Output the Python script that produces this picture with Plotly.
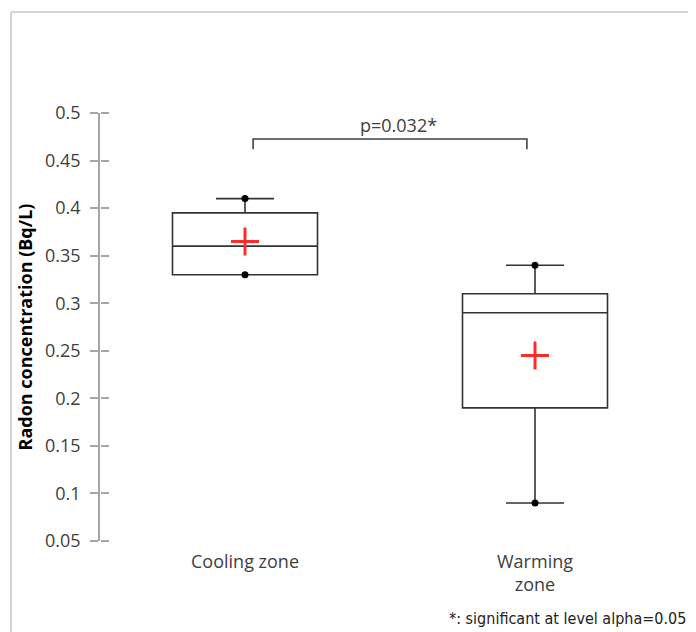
import plotly.graph_objects as go

# ---- data ----
categories = ["Cooling zone", "Warming<br>zone"]
cat_pos = [1, 2]
q1_vals = [0.33, 0.19]
median_vals = [0.36, 0.29]
q3_vals = [0.395, 0.31]
lower_vals = [0.33, 0.09]
upper_vals = [0.41, 0.34]
mean_vals = [0.365, 0.245]
y_ticks = [0.05, 0.1, 0.15, 0.2, 0.25, 0.3, 0.35, 0.4, 0.45, 0.5]
y_ticklabels = ["0.05", "0.1", "0.15", "0.2", "0.25", "0.3", "0.35", "0.4", "0.45", "0.5"]
p_label = "p=0.032*"
footnote = "*: significant at level alpha=0.05"
y_title = "Radon concentration (Bq/L)"

FONT = "Open Sans"
TXT = "#404040"
Y_RANGE = [0.05, 0.5]

fig = go.Figure()

fig.add_trace(go.Box(
    x=cat_pos, q1=q1_vals, median=median_vals, q3=q3_vals,
    lowerfence=lower_vals, upperfence=upper_vals,
    width=0.5, whiskerwidth=0.4,
    fillcolor="white", line=dict(color="#333333", width=1.6),
    hoverinfo="skip", showlegend=False,
))

# whisker end dots
dot_x = [cat_pos[0], cat_pos[0], cat_pos[1], cat_pos[1]]
dot_y = [upper_vals[0], lower_vals[0], upper_vals[1], lower_vals[1]]
fig.add_trace(go.Scatter(
    x=dot_x, y=dot_y, mode="markers",
    marker=dict(symbol="circle", size=7, color="black"),
    hoverinfo="skip", showlegend=False,
))

# means
fig.add_trace(go.Scatter(
    x=cat_pos, y=mean_vals, mode="markers",
    marker=dict(symbol="cross-thin", size=20, line=dict(color="#ff2b2b", width=3)),
    hoverinfo="skip", showlegend=False,
))

# invisible trace on overlay axis (right-pointing half of the crossing ticks)
fig.add_trace(go.Scatter(
    x=[cat_pos[0]], y=[y_ticks[0]], yaxis="y2", mode="markers",
    marker=dict(opacity=0), hoverinfo="skip", showlegend=False,
))

# significance bracket
bx0, bx1 = 1.028, 1.972
by_top, by_bot = 0.4726, 0.462
fig.add_shape(type="path",
              path=f"M {bx0},{by_bot} L {bx0},{by_top} L {bx1},{by_top} L {bx1},{by_bot}",
              xref="x", yref="y", line=dict(color="#404040", width=1.6))
fig.add_annotation(x=1.53, y=0.4877, xref="x", yref="y", text=p_label,
                   showarrow=False, font=dict(family=FONT, size=18, color=TXT),
                   xanchor="center", yanchor="middle")

# footnote
fig.add_annotation(x=1.013, y=-0.18, xref="paper", yref="paper", text=footnote,
                   showarrow=False,
                   font=dict(family="Liberation Sans Narrow, DejaVu Sans Condensed, Liberation Sans, sans-serif",
                             size=16, color="#222222"),
                   xanchor="right", yanchor="middle")

# outer gray frame (top & left)
fig.add_shape(type="line", xref="paper", yref="paper", x0=-0.1534, x1=1.1, y0=1.236, y1=1.236,
              line=dict(color="#d4d4d4", width=2))
fig.add_shape(type="line", xref="paper", yref="paper", x0=-0.1534, x1=-0.1534, y0=-0.3, y1=1.236,
              line=dict(color="#d4d4d4", width=2))

fig.update_layout(
    width=688, height=624,
    margin=dict(l=92, r=16, t=105, b=91),
    paper_bgcolor="white", plot_bgcolor="white",
    font=dict(family=FONT, color=TXT),
    showlegend=False,
    xaxis=dict(
        range=[0.5, 2.5], tickvals=cat_pos, ticktext=categories,
        showline=False, showgrid=False, zeroline=False, ticks="",
        tickfont=dict(family=FONT, size=18, color=TXT),
        ticklabelstandoff=8,
    ),
    yaxis=dict(
        range=Y_RANGE, tickvals=y_ticks, ticktext=y_ticklabels,
        showline=True, linecolor="#a6a6a6", linewidth=1.5,
        ticks="outside", ticklen=8, tickcolor="#a6a6a6", tickwidth=1.5,
        showgrid=False, zeroline=False,
        tickfont=dict(family=FONT, size=18, color=TXT),
        ticklabelstandoff=6,
        title=dict(text=f"<b>{y_title}</b>", font=dict(family=FONT, size=18, color="black"), standoff=8),
        automargin=False,
    ),
    yaxis2=dict(
        overlaying="y", anchor="free", position=0, side="right", range=Y_RANGE,
        ticks="outside", ticklen=8, tickcolor="#a6a6a6", tickwidth=1.5,
        tickvals=y_ticks, showticklabels=False, showline=False, showgrid=False, zeroline=False,
        automargin=False,
    ),
)

fig.write_html("out.html")
